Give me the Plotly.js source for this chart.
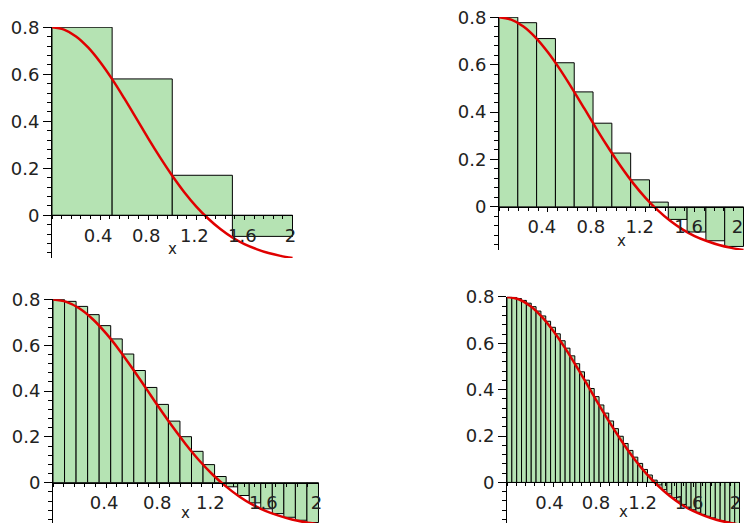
<!DOCTYPE html>
<html>
<head>
<meta charset="utf-8">
<script src="https://cdn.plot.ly/plotly-3.0.1.min.js"></script>
<style>html,body{margin:0;padding:0;background:#fff;}#chart{width:745px;height:523px;}</style>
</head>
<body>
<div id="chart"></div>
<script>
// ---- data ----
const curveX = [0, 0.1, 0.2, 0.3, 0.4, 0.5, 0.6, 0.7, 0.8, 0.9, 1.0, 1.1, 1.2, 1.3, 1.4, 1.5, 1.6, 1.7, 1.8, 1.9, 2.0];
const curveY = [0.800, 0.790, 0.761, 0.714, 0.652, 0.579, 0.498, 0.413, 0.327, 0.245, 0.168, 0.098, 0.037, -0.015, -0.059, -0.095, -0.123, -0.144, -0.161, -0.173, -0.182];

const bars4 = [0.80, 0.58, 0.17, -0.09];
const bars13 = [0.800, 0.777, 0.710, 0.608, 0.485, 0.353, 0.227, 0.114, 0.020, -0.053, -0.106, -0.143, -0.167];
const bars23 = [0.800, 0.792, 0.770, 0.734, 0.686, 0.628, 0.562, 0.490, 0.416, 0.342, 0.269, 0.201, 0.137, 0.079, 0.027, -0.018, -0.056, -0.088, -0.114, -0.135, -0.151, -0.164, -0.174];
const bars48 = [0.800, 0.798, 0.793, 0.785, 0.773, 0.758, 0.739, 0.718, 0.695, 0.669, 0.641, 0.611, 0.579, 0.546, 0.512, 0.477, 0.441, 0.405, 0.370, 0.334, 0.299, 0.265, 0.232, 0.199, 0.168, 0.138, 0.109, 0.082, 0.056, 0.032, 0.010, -0.011, -0.031, -0.049, -0.066, -0.081, -0.095, -0.107, -0.118, -0.129, -0.138, -0.146, -0.153, -0.160, -0.165, -0.170, -0.175, -0.178];

const xTickVals = [0.4, 0.8, 1.2, 1.6, 2];
const xTickText = ['0.4', '0.8', '1.2', '1.6', '2'];
const yTickVals = [0, 0.2, 0.4, 0.6, 0.8];
const yTickText = ['0', '0.2', '0.4', '0.6', '0.8'];
const xInterval = [0, 2];

// ---- layout (pixel geometry of each panel) ----
const W = 745, H = 523;
const panels = [
  {bars: bars4,  x0: 52,  x1: 293, top: 27,    bottom: 258,   ymin: -0.182, xlabShift: -34, tlShift: -2},
  {bars: bars13, x0: 499, x1: 744, top: 17,    bottom: 250,   ymin: -0.182, xlabShift: -34, tlShift: -6},
  {bars: bars23, x0: 53,  x1: 319, top: 299.3, bottom: 523,   ymin: -0.176, xlabShift: -30, tlShift: -2},
  {bars: bars48, x0: 507, x1: 740, top: 296.7, bottom: 523,   ymin: -0.175, xlabShift: -30, tlShift: -4}
];

const fontFam = '"DejaVu Sans", "Liberation Sans", Arial, sans-serif';
const traces = [];
const layout = {
  width: W, height: H,
  margin: {l: 0, r: 0, t: 0, b: 0},
  paper_bgcolor: '#ffffff', plot_bgcolor: 'rgba(0,0,0,0)',
  showlegend: false,
  annotations: []
};

panels.forEach((p, k) => {
  const i = k + 1;
  const xa = 'x' + (i === 1 ? '' : i), ya = 'y' + (i === 1 ? '' : i);
  const xKey = 'xaxis' + (i === 1 ? '' : i), yKey = 'yaxis' + (i === 1 ? '' : i);
  const n = p.bars.length;
  const h = (xInterval[1] - xInterval[0]) / n;
  const lefts = p.bars.map((_, j) => xInterval[0] + j * h);
  traces.push({
    type: 'bar', x: lefts, y: p.bars, width: h, offset: 0,
    xaxis: xa, yaxis: ya,
    marker: {color: '#b5e3b3', line: {color: '#000000', width: 1}},
    hoverinfo: 'skip', cliponaxis: false
  });
  traces.push({
    type: 'scatter', mode: 'lines', x: curveX, y: curveY,
    xaxis: xa, yaxis: ya,
    line: {color: '#e00000', width: 2.5, shape: 'spline'},
    hoverinfo: 'skip', cliponaxis: true
  });
  const yMax = 0.801;
  const yDom = [1 - p.bottom / H, 1 - p.top / H];
  const zeroPos = yDom[0] + (0 - p.ymin) / (yMax - p.ymin) * (yDom[1] - yDom[0]);
  layout[xKey] = {
    domain: [p.x0 / W, p.x1 / W], range: [0, 2.004],
    anchor: 'free', position: zeroPos,
    showline: true, linecolor: '#000', linewidth: 1,
    showgrid: false, zeroline: false,
    tickmode: 'array', tickvals: xTickVals, ticktext: xTickText,
    ticks: 'outside', ticklen: 4, tickcolor: '#000', tickwidth: 1,
    ticklabelstandoff: 0, ticklabeloverflow: 'allow', ticklabelshift: p.tlShift,
    minor: {dtick: 0.08, tick0: 0, ticks: 'outside', ticklen: 3, tickcolor: '#000'},
    tickfont: {family: fontFam, size: 18, color: '#222'},
    automargin: false, fixedrange: true
  };
  layout[yKey] = {
    domain: yDom, range: [p.ymin, yMax],
    anchor: xa,
    showline: true, linecolor: '#000', linewidth: 1,
    showgrid: false, zeroline: false,
    tickmode: 'array', tickvals: yTickVals, ticktext: yTickText,
    ticks: 'outside', ticklen: 8, tickcolor: '#000', tickwidth: 1,
    minor: {dtick: 0.04, tick0: 0, ticks: 'outside', ticklen: 4, tickcolor: '#000'},
    tickfont: {family: fontFam, size: 18, color: '#222'},
    automargin: false, fixedrange: true
  };
  layout.annotations.push({
    text: 'x', xref: xa, yref: ya, x: 1, y: 0, yshift: p.xlabShift,
    showarrow: false, font: {family: fontFam, size: 15, color: '#222'}
  });
});

Plotly.newPlot('chart', traces, layout, {staticPlot: true, displayModeBar: false});
</script>
</body>
</html>
